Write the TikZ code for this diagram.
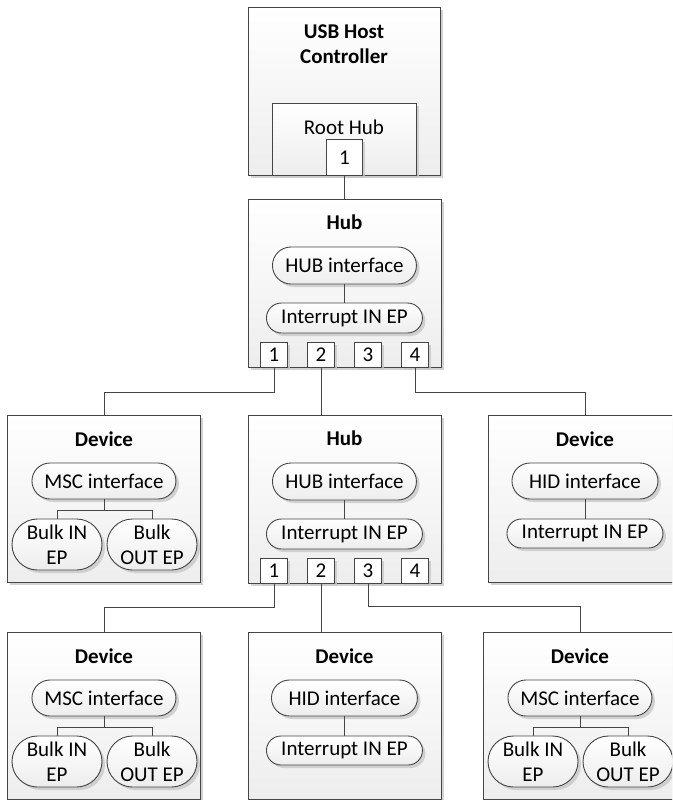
\documentclass[tikz,border=0pt]{standalone}
\usepackage{fontspec}
\setmainfont{Carlito}
\usetikzlibrary{shapes.misc,shadows,calc}
\definecolor{edgec}{HTML}{454545}
\definecolor{shadec}{HTML}{C8C8C8}
\tikzset{
  sh/.style={drop shadow={shadow xshift=3pt, shadow yshift=-3pt, fill=shadec, opacity=0.8}},
  box/.style={draw=edgec, line width=0.9pt, top color=white, bottom color=black!7, sh, inner sep=0pt, anchor=north west},
  pill/.style={rounded rectangle, draw=edgec, line width=0.9pt, top color=white, bottom color=black!7, sh, inner sep=0pt, align=center, font=\fontsize{21}{25}\selectfont},
  portbox/.style={draw=edgec, line width=0.9pt, fill=white, sh, inner sep=0pt, font=\fontsize{21}{25}\selectfont},
  title/.style={font=\fontsize{21}{25}\selectfont\bfseries, align=center, inner sep=0pt},
  plain/.style={font=\fontsize{21}{25}\selectfont, align=center, inner sep=0pt},
  wire/.style={draw=edgec, line width=0.9pt},
}
\newcommand{\mscdev}[3]{%
  \node[box, minimum width=193pt, minimum height=167pt] (#1) at (#2,#3) {};
  \node[title] (#1t) at ($(#1.north)+(0,24)$) {Device};
  \node[pill, minimum width=144pt, minimum height=36pt] (#1if) at ($(#1.north)+(0,66)$) {MSC interface};
  \node[pill, minimum width=90pt, minimum height=51pt] (#1bi) at ($(#1.north west)+(50,129.5)$) {Bulk IN\\EP};
  \node[pill, minimum width=90pt, minimum height=51pt] (#1bo) at ($(#1.north west)+(145,129.5)$) {Bulk\\OUT EP};
  \coordinate (#1j) at ($(#1if.south)+(0,11)$);
  \draw[wire] (#1if.south) -- (#1j) -| (#1bi.north);
  \draw[wire] (#1j) -| (#1bo.north);
}
\newcommand{\hiddev}[3]{%
  \node[box, minimum width=193pt, minimum height=167pt] (#1) at (#2,#3) {};
  \node[title] (#1t) at ($(#1.north)+(0,24)$) {Device};
  \node[pill, minimum width=146pt, minimum height=36pt] (#1if) at ($(#1.north)+(0,66)$) {HID interface};
  \node[pill, minimum width=156pt, minimum height=29pt] (#1ep) at ($(#1.north)+(0,118.5)$) {Interrupt IN EP};
  \draw[wire] (#1if.south) -- (#1ep.north);
}
\newcommand{\hubnode}[3]{%
  \node[box, minimum width=193pt, minimum height=168pt] (#1) at (#2,#3) {};
  \node[title] (#1t) at ($(#1.north)+(0,23)$) {Hub};
  \node[pill, minimum width=144pt, minimum height=37pt] (#1if) at ($(#1.north)+(0,66.5)$) {HUB interface};
  \node[pill, minimum width=156pt, minimum height=30pt] (#1ep) at ($(#1.north)+(0,119)$) {Interrupt IN EP};
  \draw[wire] (#1if.south) -- (#1ep.north);
  \node[portbox, minimum width=27pt, minimum height=25pt, anchor=south] (#1p1) at ($(#1.south)+(-70.5,0)$) {1};
  \node[portbox, minimum width=27pt, minimum height=25pt, anchor=south] (#1p2) at ($(#1.south)+(-23.5,0)$) {2};
  \node[portbox, minimum width=27pt, minimum height=25pt, anchor=south] (#1p3) at ($(#1.south)+(23.5,0)$) {3};
  \node[portbox, minimum width=27pt, minimum height=25pt, anchor=south] (#1p4) at ($(#1.south)+(70.5,0)$) {4};
}
\begin{document}
\begin{tikzpicture}[x=1pt,y=-1pt]
\useasboundingbox (0,0) rectangle (672,800);
\clip (0,0) rectangle (672,800);
% host controller
\node[box, minimum width=192pt, minimum height=168pt] (host) at (248,7) {};
\node[title] (hostt) at (344,44.5) {USB Host\\Controller};
\node[box, minimum width=144pt, minimum height=72pt] (rh) at (272,103) {};
\node[plain] (rht) at (344,127) {Root Hub};
\node[portbox, minimum width=36pt, minimum height=36pt, anchor=north west] (rp1) at (326,139) {1};
% hubs
\hubnode{hubA}{247.5}{199}
\hubnode{hubB}{247.5}{415}
% second row devices
\mscdev{devL}{7}{415}
\hiddev{devR}{488}{415}
% bottom row devices
\mscdev{devBL}{7}{632}
\hiddev{devBM}{247.5}{632}
\mscdev{devBR}{483}{632}
% connectors
\draw[wire] (rp1.south) -- (hubA.north);
\draw[wire] (hubAp1.south) -- ++(0,25) -| (devL.north);
\draw[wire] (hubAp2.south) -- (hubAp2.south |- hubB.north);
\draw[wire] (hubAp4.south) -- ++(0,25) -| (devR.north);
\draw[wire] (hubBp1.south) -- ++(0,24) -| (devBL.north);
\draw[wire] (hubBp2.south) -- (hubBp2.south |- devBM.north);
\draw[wire] (hubBp3.south) -- ++(0,23) -| (devBR.north);
\end{tikzpicture}
\end{document}
